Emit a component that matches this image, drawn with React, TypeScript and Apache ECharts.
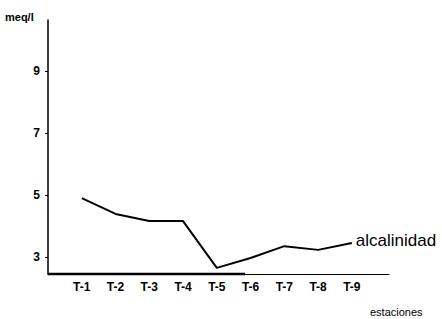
import React, { useEffect, useRef } from "react";
import * as echarts from "echarts";

const categories = ["T-1", "T-2", "T-3", "T-4", "T-5", "T-6", "T-7", "T-8", "T-9"];
const alcalinidad = [4.9, 4.39, 4.16, 4.16, 2.65, 2.97, 3.35, 3.23, 3.45];
const yTicks = [3, 5, 7, 9];
const seriesName = "alcalinidad";
const yTitle = "meq/l";
const xTitle = "estaciones";

const FONT = "'Liberation Sans Narrow', 'Liberation Sans', Arial, sans-serif";

export default function App() {
  const ref = useRef<HTMLDivElement>(null);
  useEffect(() => {
    if (!ref.current) return;
    const chart = echarts.init(ref.current, null, { renderer: "svg" });
    const data = alcalinidad.map((v, i) => [i + 1, v]);
    chart.setOption({
      animation: false,
      backgroundColor: "#fff",
      grid: { left: 48, top: 20, width: 341, height: 254, containLabel: false },
      xAxis: {
        type: "value",
        min: 0,
        max: 10.1,
        splitLine: { show: false },
        axisLine: { show: true, lineStyle: { color: "#000", width: 1.2 } },
        axisTick: { show: false },
        axisLabel: {
          customValues: categories.map((_, i) => i + 1),
          formatter: (v: number) => categories[Math.round(v) - 1] ?? "",
          color: "#000",
          fontFamily: FONT,
          fontWeight: "bold",
          fontSize: 12,
          margin: 7,
        },
      },
      yAxis: {
        type: "value",
        min: 2.452,
        max: 10.645,
        splitLine: { show: false },
        axisLine: { show: true, lineStyle: { color: "#000", width: 1.5 } },
        axisTick: { show: true, customValues: yTicks, length: 3, lineStyle: { color: "#000" } },
        axisLabel: {
          customValues: yTicks,
          color: "#000",
          fontFamily: FONT,
          fontWeight: "bold",
          fontSize: 12,
          margin: 8,
        },
      },
      graphic: [
        {
          type: "line",
          shape: { x1: 48, y1: 274, x2: 245, y2: 274 },
          style: { stroke: "#000", lineWidth: 2.5 },
        },
        {
          type: "text",
          left: 5,
          top: 11,
          style: { text: yTitle, fill: "#000", font: `bold 11px ${FONT}` },
        },
        {
          type: "text",
          left: 370,
          top: 306,
          style: { text: xTitle, fill: "#000", font: `11px ${FONT}` },
        },
      ],
      series: [
        {
          type: "line",
          name: seriesName,
          data,
          symbol: "none",
          lineStyle: { color: "#000", width: 2 },
          endLabel: {
            show: true,
            formatter: () => seriesName,
            color: "#000",
            fontFamily: FONT,
            fontSize: 17,
            distance: 4,
            offset: [0, -3],
          },
        },
      ],
    });
    return () => chart.dispose();
  }, []);
  return <div ref={ref} style={{ width: 442, height: 319, position: "absolute", left: 0, top: 0 }} />;
}
